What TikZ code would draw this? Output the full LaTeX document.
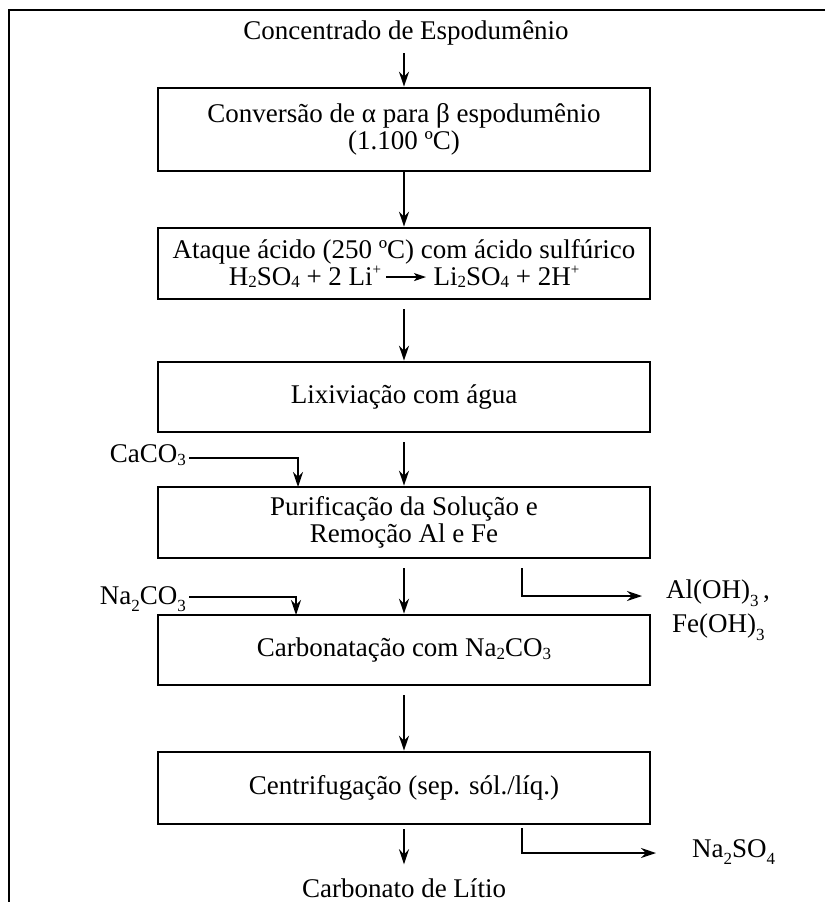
\documentclass[tikz,border=0pt]{standalone}
\usepackage{fontspec}
\setmainfont{Liberation Serif}
\usetikzlibrary{arrows.meta}
\newcommand\bsub[1]{\raisebox{-0.1em}{\fontsize{17}{17}\selectfont #1}}
\newcommand\bsup[1]{\raisebox{0.4em}{\fontsize{15}{15}\selectfont #1}}
\newcommand\lsub[1]{\raisebox{-0.28em}{\fontsize{17}{17}\selectfont #1}}
\newcommand\rxarrow{\tikz[baseline=-0.3em]\draw[line width=1.6pt,-{Stealth[length=12pt,width=8pt,inset=3pt]}] (0,0)--(40pt,0);}
\begin{document}
\begin{tikzpicture}[x=1pt,y=-1pt,
  font=\fontsize{27}{30}\selectfont,
  procbox/.style={draw,line width=2.6pt,minimum width=492pt,inner sep=0pt,align=center},
  lbl/.style={inner sep=0pt},
  arr/.style={line width=1.8pt,-{Stealth[length=15pt,width=10pt,inset=5pt]}}]
\useasboundingbox (0,0) rectangle (825,902);
% frame
\draw[line width=2.6pt] (825,10) -- (9,10) -- (9,902);
% title
\node[lbl] (t) at (406,33) {Concentrado de Espodumênio};
% boxes
\node[procbox,minimum height=83pt] (b1) at (404,129.5) {Conversão de α para β espodumênio\\[-3pt](1.100 ºC)};
\node[procbox,minimum height=71pt] (b2) at (404,263.5) {Ataque ácido (250 ºC) com ácido sulfúrico\\[-3pt]H\bsub{2}SO\bsub{4} + 2 Li\bsup{+}\kern4pt\rxarrow\ Li\bsub{2}SO\bsub{4} + 2H\bsup{+}};
\node[procbox,minimum height=70pt] (b3) at (404,397) {Lixiviação com água};
\node[procbox,minimum height=71pt] (b4) at (404,522.5) {Purificação da Solução e\\[-3pt]Remoção Al e Fe};
\node[procbox,minimum height=70pt] (b5) at (404,650) {Carbonatação com Na\bsub{2}CO\bsub{3}};
\node[procbox,minimum height=72pt] (b6) at (404,788) {Centrifugação (sep. sól./líq.)};
\node[lbl] (out) at (404,888) {Carbonato de Lítio};
% side labels
\node[lbl,anchor=east] (ca) at (186,455) {CaCO\bsub{3}};
\node[lbl,anchor=east] (na) at (186,599) {Na\lsub{2}CO\lsub{3}};
\node[lbl,anchor=west] (al) at (666,593) {Al(OH)\lsub{3}\,,};
\node[lbl,anchor=west] (fe) at (672,627) {Fe(OH)\lsub{3}};
\node[lbl,anchor=west] (ns) at (692,852) {Na\lsub{2}SO\lsub{4}};
% coordinates
\coordinate (ca4) at (298,487);
\coordinate (na5) at (296,615);
\coordinate (s4) at (522,568);
\coordinate (e4) at (642,596);
\coordinate (s6) at (522,828);
\coordinate (e6) at (656,853);
% main arrows
\draw[arr] ([yshift=-8pt]t.south -| b1.north) -- (b1.north);
\draw[arr] (b1.south) -- (b2.north);
\draw[arr,shorten <=9pt] (b2.south) -- (b3.north);
\draw[arr,shorten <=9pt] (b3.south) -- (b4.north);
\draw[arr,shorten <=9pt] (b4.south) -- (b5.north);
\draw[arr,shorten <=9pt] (b5.south) -- (b6.north);
\draw[arr,shorten <=4pt,shorten >=14pt] (b6.south) -- (out.north);
% side arrows
\draw[arr] (ca.east) ++(3,3) -| (ca4);
\draw[arr] (na.east) ++(3,-2) -| (na5);
\draw[arr] (s4) |- (e4);
\draw[arr] (s6) |- (e6);
\end{tikzpicture}
\end{document}
